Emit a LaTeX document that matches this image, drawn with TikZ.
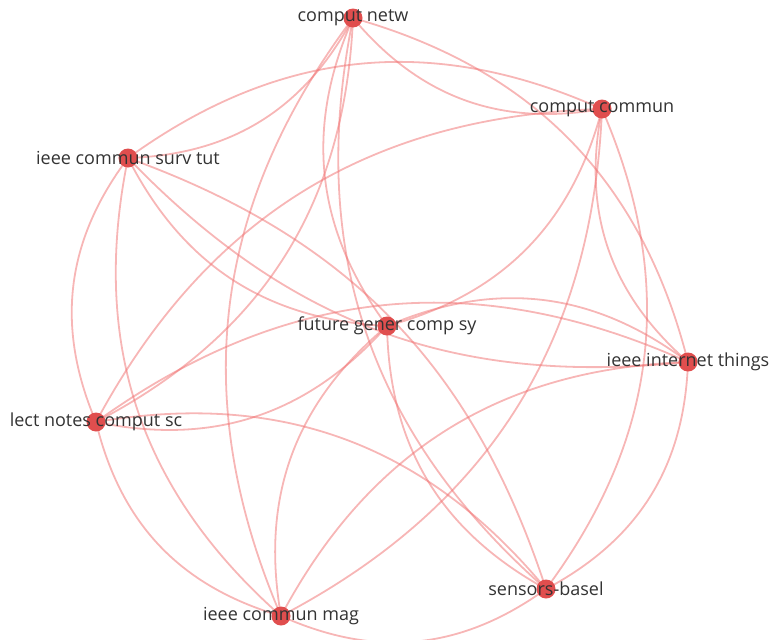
\documentclass[tikz,border=0pt]{standalone}
\usepackage{fontspec}
\setmainfont{Open Sans}
\usepackage{tikz}
\usetikzlibrary{backgrounds}
\definecolor{NodeRed}{RGB}{224,78,78}
\definecolor{LinkRed}{RGB}{240,110,110}
\definecolor{LabelGray}{RGB}{51,51,51}

\begin{document}
\begin{tikzpicture}[x=1pt, y=1pt,
		journal/.style={circle, fill=NodeRed, minimum size=19pt, inner sep=0pt,
			label={[text=LabelGray, font=\fontsize{18}{21}\selectfont]center:#1}},
		link/.style={draw=LinkRed, draw opacity=0.5, line width=1.8pt}]
		\useasboundingbox (0,0) rectangle (772,-640);
		\node[journal={comput netw}] (cn) at (353,-18) {};
		\node[journal={comput commun}] (cc) at (602,-109) {};
		\node[journal={ieee commun surv tut}] (st) at (128,-158) {};
		\node[journal={future gener comp sy}] (fg) at (387,-326) {};
		\node[journal={ieee internet things}] (it) at (688,-362) {};
		\node[journal={lect notes comput sc}] (ln) at (96,-422) {};
		\node[journal={sensors-basel}] (sb) at (546,-589) {};
		\node[journal={ieee commun mag}] (cm) at (281,-616) {};
		% co-citation links, bend left = positive
		\begin{scope}[on background layer]
		\foreach \a/\b/\ang in {cn/cc/-30, cn/it/30, cn/st/30, cn/ln/30, cn/cm/-30,
			cn/fg/-30, cn/sb/-30, st/cc/30, st/ln/-30, st/cm/-30, st/fg/-30,
			st/it/-26, st/sb/26, cc/ln/-30, cc/fg/30, cc/cm/30, cc/sb/30,
			cc/it/-30, fg/ln/30, fg/it/30, fg/cm/-30, fg/sb/-30, ln/it/30,
			ln/sb/30, ln/cm/-30, it/cm/-30, it/sb/30, cm/sb/-30}
		\draw[link] (\a.center) to[bend left=\ang] (\b.center);
		\end{scope}
	\end{tikzpicture}
\end{document}
